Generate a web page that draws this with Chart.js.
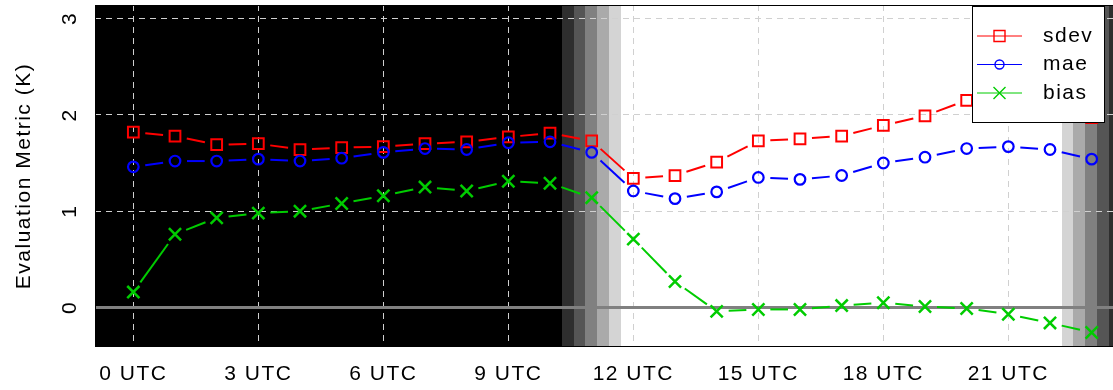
<!DOCTYPE html>
<html>
<head>
<meta charset="utf-8">
<title>Evaluation metrics by hour</title>
<script src="https://cdn.jsdelivr.net/npm/chart.js@4/dist/chart.umd.min.js"></script>
<style>
  html, body { margin: 0; padding: 0; background: #fff; overflow: hidden; }
  #wrap { position: relative; width: 1135px; height: 390px; }
</style>
</head>
<body>
<div id="wrap"><canvas id="chart"></canvas></div>
<script>
  // hourly evaluation metrics (K)
  var hours = [0, 1, 2, 3, 4, 5, 6, 7, 8, 9, 10, 11, 12, 13, 14, 15, 16, 17, 18, 19, 20, 21, 22, 23];
  var sdev = [1.82, 1.78, 1.69, 1.70, 1.64, 1.66, 1.67, 1.70, 1.72, 1.77, 1.81, 1.73,
              1.34, 1.37, 1.51, 1.73, 1.75, 1.78, 1.89, 1.99, 2.15, 2.22, 2.18, 1.97];
  var mae = [1.46, 1.52, 1.52, 1.54, 1.52, 1.55, 1.61, 1.65, 1.64, 1.71, 1.72, 1.61,
             1.21, 1.13, 1.20, 1.35, 1.33, 1.37, 1.50, 1.56, 1.65, 1.67, 1.64, 1.54];
  var bias = [0.16, 0.76, 0.93, 0.98, 1.00, 1.08, 1.16, 1.25, 1.21, 1.31, 1.29, 1.14,
              0.71, 0.27, -0.04, -0.02, -0.02, 0.02, 0.05, 0.01, -0.01, -0.07, -0.16, -0.26];
  var seriesNames = ["sdev", "mae", "bias"];
  var xTicks = [0, 3, 6, 9, 12, 15, 18, 21];
  var yTicks = [0, 1, 2, 3];
  var xRange = [-0.92, 23.92];
  var yRange = [-0.41, 3.14];
  // twilight band edges (hour of day), dark -> light at dawn, light -> dark at dusk
  var dawnEdges = [10.29, 10.57, 10.85, 11.13, 11.42, 11.70];
  var duskEdges = [22.28, 22.56, 22.84, 23.12, 23.41, 23.69];

  var FONT = "'Liberation Sans', Arial, Helvetica, sans-serif";
  var bandGrays = ["#2e2e2e", "#555555", "#808080", "#aaaaaa", "#d4d4d4"];
  var gridColor = "#d0d0d0";
  var lineGap = 12;

  Chart.defaults.font.family = FONT;

  // R type="b": line segments stop short of each marker
  function gapDash(c) {
    var L = Math.hypot(c.p1.x - c.p0.x, c.p1.y - c.p0.y);
    return [0, lineGap, Math.max(L - 2 * lineGap, 0), 10000 + c.p0DataIndex];
  }

  function pts(values) {
    return hours.map(function (h, i) { return { x: h, y: values[i] }; });
  }

  function drawMarker(ctx, style, x, y, color, lw) {
    ctx.save();
    ctx.strokeStyle = color;
    ctx.lineWidth = lw;
    ctx.beginPath();
    if (style === "rect") {
      ctx.rect(x - 5.5, y - 5.5, 11, 11);
    } else if (style === "circle") {
      ctx.arc(x, y, 4.5, 0, Math.PI * 2);
    } else {
      ctx.moveTo(x - 6, y - 6); ctx.lineTo(x + 6, y + 6);
      ctx.moveTo(x + 6, y - 6); ctx.lineTo(x - 6, y + 6);
    }
    ctx.stroke();
    ctx.restore();
  }

  var shadePlugin = {
    id: "shade",
    beforeDraw: function (chart) {
      var ctx = chart.ctx, a = chart.chartArea, sx = chart.scales.x;
      function px(h) { return Math.round(sx.getPixelForValue(h)); }
      function band(x0, x1, col) {
        ctx.fillStyle = col;
        ctx.fillRect(x0, a.top, x1 - x0, a.bottom - a.top);
      }
      ctx.letterSpacing = "1.5px";
      ctx.save();
      band(a.left, px(dawnEdges[0]), "#000");
      for (var i = 0; i < 5; i++) band(px(dawnEdges[i]), px(dawnEdges[i + 1]), bandGrays[i]);
      band(px(dawnEdges[5]), px(duskEdges[0]), "#fff");
      for (var j = 0; j < 5; j++) band(px(duskEdges[j]), px(duskEdges[j + 1]), bandGrays[4 - j]);
      band(px(duskEdges[5]), a.right, "#000");
      ctx.restore();
    },
    beforeDatasetsDraw: function (chart) {
      var ctx = chart.ctx, a = chart.chartArea;
      var y0 = chart.scales.y.getPixelForValue(0);
      ctx.save();
      ctx.strokeStyle = "#808080";
      ctx.lineWidth = 3;
      ctx.beginPath();
      ctx.moveTo(a.left, y0);
      ctx.lineTo(a.right, y0);
      ctx.stroke();
      ctx.strokeStyle = "#000";
      ctx.lineWidth = 1;
      ctx.strokeRect(a.left + 0.5, a.top + 0.5, a.right - a.left - 1, a.bottom - a.top - 1);
      ctx.restore();
    }
  };

  var legendPlugin = {
    id: "boxLegend",
    afterDraw: function (chart) {
      var ctx = chart.ctx;
      ctx.save();
      ctx.fillStyle = "#fff";
      ctx.fillRect(972, 6, 132, 116);
      ctx.strokeStyle = "#000";
      ctx.lineWidth = 1;
      ctx.strokeRect(972.5, 6.5, 132, 116);
      chart.data.datasets.forEach(function (ds, i) {
        var y = 36 + i * 28.5;
        ctx.strokeStyle = ds.borderColor;
        ctx.lineWidth = 1;
        ctx.beginPath();
        ctx.moveTo(977, y);
        ctx.lineTo(1022, y);
        ctx.stroke();
        drawMarker(ctx, ds.pointStyle, 999.5, y, ds.borderColor, 1.4);
        ctx.fillStyle = "#000";
        ctx.font = "21px " + FONT;
        ctx.textBaseline = "middle";
        ctx.textAlign = "left";
        ctx.fillText(ds.label, 1043, y);
      });
      ctx.restore();
    }
  };

  function series(i, values, color, style, radius, bw, order) {
    return {
      label: seriesNames[i],
      data: pts(values),
      borderColor: color,
      backgroundColor: color,
      borderWidth: 2,
      borderCapStyle: "butt",
      pointStyle: style,
      pointRadius: radius,
      pointBorderWidth: bw,
      pointBackgroundColor: "rgba(0,0,0,0)",
      pointBorderColor: color,
      tension: 0,
      order: order,
      segment: { borderDash: gapDash }
    };
  }

  new Chart(document.getElementById("chart"), {
    type: "line",
    data: {
      datasets: [
        series(0, sdev, "#ff0000", "rect", 7.6, 2, 3),
        series(1, mae, "#0000ff", "circle", 5.3, 2.2, 2),
        series(2, bias, "#00cc00", "crossRot", 8.6, 2.5, 1)
      ]
    },
    options: {
      responsive: true,
      maintainAspectRatio: false,
      animation: false,
      layout: { autoPadding: false, padding: { top: 5, right: 5, left: 0, bottom: 0 } },
      plugins: {
        legend: { display: false },
        tooltip: { enabled: false }
      },
      scales: {
        x: {
          type: "linear",
          min: xRange[0],
          max: xRange[1],
          afterBuildTicks: function (s) { s.ticks = xTicks.map(function (v) { return { value: v }; }); },
          afterFit: function (s) { s.height = 43; s.paddingLeft = 0; s.paddingRight = 0; },
          grid: { color: gridColor, lineWidth: 1, drawTicks: false },
          border: { display: false, dash: [6, 5] },
          ticks: {
            color: "#000",
            font: { size: 21 },
            padding: 15,
            maxRotation: 0,
            autoSkip: false,
            callback: function (v) { return v + " UTC"; }
          }
        },
        y: {
          type: "linear",
          min: yRange[0],
          max: yRange[1],
          afterBuildTicks: function (s) { s.ticks = yTicks.map(function (v) { return { value: v }; }); },
          afterFit: function (s) { s.width = 95; s.paddingTop = 0; s.paddingBottom = 0; },
          grid: { color: gridColor, lineWidth: 1, drawTicks: false },
          border: { display: false, dash: [6, 5] },
          ticks: {
            color: "#000",
            font: { size: 21 },
            padding: 19,
            minRotation: 90,
            maxRotation: 90,
            crossAlign: "center",
            autoSkip: false,
            callback: function (v) { return String(v); }
          },
          title: {
            display: true,
            text: "Evaluation Metric (K)",
            color: "#000",
            font: { size: 21 },
            padding: { top: 12, bottom: 0 }
          }
        }
      }
    },
    plugins: [shadePlugin, legendPlugin]
  });
</script>
</body>
</html>
